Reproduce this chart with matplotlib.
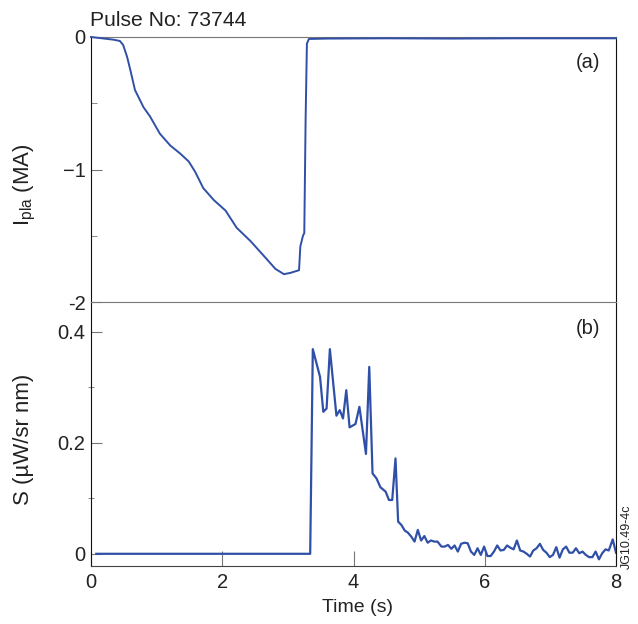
import numpy as np
import matplotlib
matplotlib.use('Agg')
import matplotlib.pyplot as plt
from matplotlib.ticker import FixedLocator

plt.rcParams['font.family'] = ['Liberation Sans', 'DejaVu Sans']
plt.rcParams['mathtext.fontset'] = 'custom'
plt.rcParams['mathtext.rm'] = 'Liberation Sans'
plt.rcParams['mathtext.it'] = 'Liberation Sans'

# plasma current, panel (a)
t_ip = [0.0, 0.34, 0.44, 0.49, 0.55, 0.60, 0.67, 0.80, 0.90, 1.05, 1.21, 1.36,
        1.49, 1.59, 1.71, 1.87, 2.05, 2.22, 2.43, 2.63, 2.81, 2.94, 3.04, 3.17,
        3.19, 3.23, 3.25, 3.27, 3.29, 3.32, 3.6, 4.5, 5.5, 6.5, 7.5, 8.0]
ip = [0.0, -0.02, -0.03, -0.06, -0.15, -0.25, -0.40, -0.53, -0.60, -0.73, -0.82,
      -0.88, -0.94, -1.02, -1.14, -1.23, -1.31, -1.44, -1.54, -1.65, -1.75,
      -1.79, -1.78, -1.76, -1.58, -1.50, -1.48, -0.63, -0.05, -0.015, -0.012,
      -0.01, -0.012, -0.01, -0.01, -0.01]

# signal S, panel (b)
t_s = [0.08, 3.34, 3.38, 3.49, 3.54, 3.59, 3.64, 3.74, 3.79, 3.84, 3.89, 3.94,
       4.03, 4.09, 4.19, 4.24, 4.29, 4.35, 4.41, 4.49, 4.54, 4.59, 4.64, 4.68,
       4.73, 4.78, 4.83, 4.88, 4.93, 4.98, 5.03, 5.08, 5.13, 5.18, 5.23, 5.28,
       5.34, 5.39, 5.44, 5.49, 5.54, 5.59, 5.64, 5.69, 5.74, 5.79, 5.84, 5.89,
       5.94, 5.99, 6.04, 6.09, 6.14, 6.19, 6.24, 6.29, 6.34, 6.39, 6.44, 6.49,
       6.54, 6.59, 6.64, 6.69, 6.74, 6.79, 6.84, 6.89, 6.94, 6.99, 7.04, 7.09,
       7.14, 7.19, 7.24, 7.29, 7.34, 7.39, 7.44, 7.49, 7.54, 7.59, 7.64, 7.69,
       7.74, 7.79, 7.84, 7.89, 7.95, 8.0]
s = [0.0, 0.0, 0.369, 0.319, 0.256, 0.262, 0.369, 0.249, 0.259, 0.244, 0.295,
     0.228, 0.234, 0.265, 0.180, 0.337, 0.145, 0.136, 0.120, 0.112, 0.097,
     0.097, 0.172, 0.058, 0.052, 0.042, 0.038, 0.031, 0.022, 0.043, 0.024,
     0.032, 0.020, 0.024, 0.022, 0.022, 0.013, 0.013, 0.016, 0.009, 0.015,
     0.004, 0.018, 0.020, 0.019, 0.004, -0.002, 0.010, -0.002, 0.013, -0.004,
     -0.004, 0.004, 0.015, 0.006, 0.007, 0.015, 0.011, 0.008, 0.024, 0.006,
     0.004, 0.000, -0.005, 0.006, 0.010, 0.018, 0.007, 0.002, -0.006, -0.002,
     0.012, -0.007, 0.008, 0.013, 0.002, 0.002, 0.010, 0.001, 0.004, -0.002,
     -0.006, -0.006, 0.004, -0.010, 0.001, 0.008, 0.006, 0.026, 0.002]

line_col = '#3050a8'
txt_col = '#222222'
grey = '#777777'

fig = plt.figure(figsize=(6.38, 6.24), dpi=100)
W, H = 638, 624
x0, x1 = 91, 616
ax2 = fig.add_axes([x0 / W, 1 - 566 / H, (x1 - x0) / W, (566 - 302) / H])
ax1 = fig.add_axes([x0 / W, 1 - 302 / H, (x1 - x0) / W, (302 - 37) / H])
ax1.patch.set_alpha(0)

ax1.plot(t_ip, ip, color=line_col, lw=1.4, clip_on=False, zorder=3)
ax2.plot(t_s, s, color=line_col, lw=1.6, zorder=3)

for ax in (ax1, ax2):
    ax.set_xlim(0, 8)
    ax.spines['left'].set_color('#111111')
    ax.spines['right'].set_color('#111111')
    ax.tick_params(which='both', direction='in', color=grey, labelcolor=txt_col,
                   labelsize=14.5, pad=4)
    ax.tick_params(which='major', length=8)
    ax.tick_params(which='minor', length=4)

ax1.set_ylim(-2, 0)
ax1.spines['top'].set_color(grey)
ax1.spines['bottom'].set_color(grey)
ax1.set_yticks([0, -1, -2])
ax1.set_yticklabels(['0', '\u22121', '-2'])
ax1.yaxis.set_minor_locator(FixedLocator([-0.5, -1.5]))
ax1.tick_params(axis='x', which='both', bottom=False, labelbottom=False)

ax2.set_ylim(-0.022, 0.454)
ax2.spines['top'].set_visible(False)
ax2.spines['bottom'].set_color('#444444')
ax2.set_yticks([0, 0.2, 0.4])
ax2.set_yticklabels(['0', '0.2', '0.4'])
ax2.yaxis.set_minor_locator(FixedLocator([0.1, 0.3]))
ax2.tick_params(axis='y', which='minor', direction='inout', length=5)
ax2.set_xticks([0, 2, 4, 6, 8])
ax2.tick_params(axis='x', length=11, pad=5)

fig.text(90 / W, 1 - 21 / H, 'Pulse No: 73744', fontsize=15.2, color=txt_col,
         ha='left', va='center')
fig.text(25 / W, 1 - 185 / H, r'I$_{\mathrm{pla}}$ (MA)', fontsize=16,
         color=txt_col, rotation=90, ha='center', va='center')
fig.text(24 / W, 1 - 439 / H, 'S (\u00b5W/sr nm)', fontsize=16,
         color=txt_col, rotation=90, ha='center', va='center')
fig.text(357 / W, 1 - 607 / H, 'Time (s)', fontsize=14, color=txt_col,
         ha='center', va='center')
fig.text(588 / W, 1 - 62 / H, '(a)', fontsize=14.5, color=txt_col,
         ha='center', va='center')
fig.text(588 / W, 1 - 328 / H, '(b)', fontsize=14.5, color=txt_col,
         ha='center', va='center')
fig.text(627 / W, 1 - 537 / H, 'JG10.49-4c', fontsize=9, color=txt_col,
         rotation=90, ha='center', va='center')

fig.savefig('out.png', dpi=100)
